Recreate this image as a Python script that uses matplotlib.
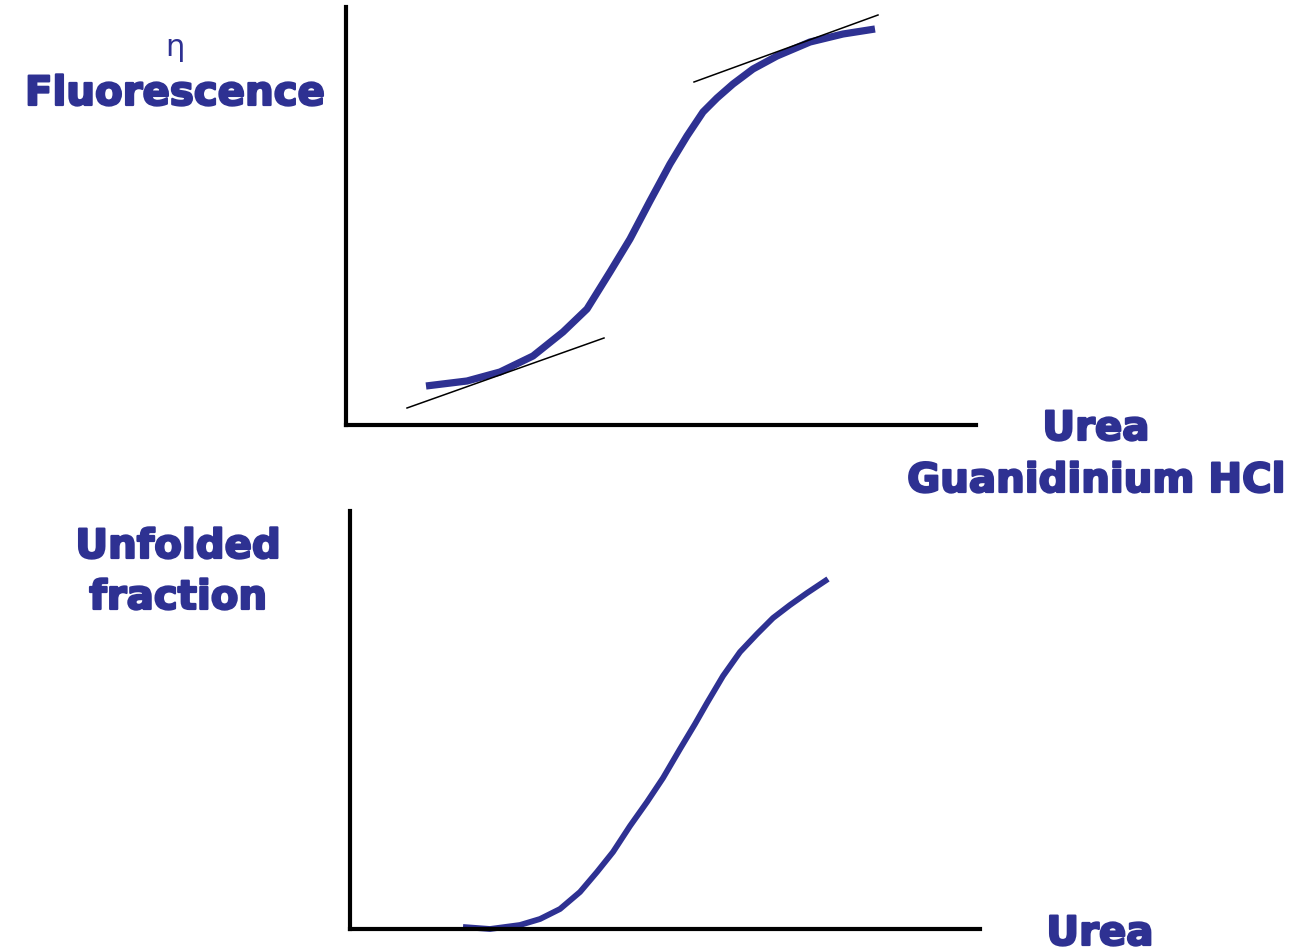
import matplotlib
matplotlib.use('Agg')
import matplotlib.pyplot as plt
import matplotlib.patheffects as pe

W, H = 1295, 953

# curva superior (fluorescencia), coordenadas relativas al origen de los ejes
top_x = [80, 121, 154, 187, 217, 241, 264, 284, 304, 324, 341, 357, 371, 387, 407, 431, 464, 497, 529]
top_y = [39, 44, 53, 69, 93, 116, 153, 186, 224, 261, 289, 313, 327, 341, 356, 369, 383, 391, 396]
# tangentes (lineas base)
tan_low_x = [61, 258]
tan_low_y = [17, 87]
tan_high_x = [348, 532]
tan_high_y = [343, 410]

# curva inferior (fraccion desplegada)
bot_x = [113, 140, 170, 190, 210, 230, 247, 263, 280, 297, 313, 330, 345, 357, 373, 390, 407, 423, 440, 457, 478]
bot_y = [2, 0, 4, 10, 20, 37, 57, 77, 103, 127, 151, 180, 205, 226, 253, 277, 295, 311, 324, 336, 350]

blue = '#2E3192'

fig = plt.figure(figsize=(W / 100, H / 100), dpi=100)


def make_axes(left, top, right, bottom):
    ax = fig.add_axes([left / W, 1 - bottom / H, (right - left) / W, (bottom - top) / H])
    ax.set_xlim(0, right - left)
    ax.set_ylim(0, bottom - top)
    for s in ['top', 'right']:
        ax.spines[s].set_visible(False)
    for s in ['left', 'bottom']:
        ax.spines[s].set_linewidth(3)
        ax.spines[s].set_color('black')
    ax.set_xticks([])
    ax.set_yticks([])
    ax.patch.set_alpha(0)
    return ax


ax1 = make_axes(346, 8, 976, 426)
ax1.plot(top_x, top_y, color=blue, linewidth=5.2, solid_capstyle='butt',
         solid_joinstyle='round', clip_on=False)
ax1.plot(tan_low_x, tan_low_y, color='black', linewidth=1.1, clip_on=False)
ax1.plot(tan_high_x, tan_high_y, color='black', linewidth=1.1, clip_on=False)

ax2 = make_axes(350, 512, 980, 930)
ax2.plot(bot_x, bot_y, color=blue, linewidth=4.2, solid_capstyle='butt',
         solid_joinstyle='round', clip_on=False)

txt = dict(color=blue, fontsize=29, fontweight='bold', family='DejaVu Sans',
           ha='center', va='center',
           path_effects=[pe.withStroke(linewidth=1.6, foreground=blue)])


def label(x, y, s, **kw):
    d = dict(txt)
    d.update(kw)
    fig.text(x / W, 1 - y / H, s, **d)


label(175, 47, 'η', fontsize=22, fontweight='normal', path_effects=[])
label(175, 95, 'Fluorescence')
label(1096, 430, 'Urea')
label(1096, 482, 'Guanidinium HCl')
label(178, 548, 'Unfolded')
label(178, 599, 'fraction')
label(1100, 935, 'Urea')

fig.savefig('out.png', dpi=100)
